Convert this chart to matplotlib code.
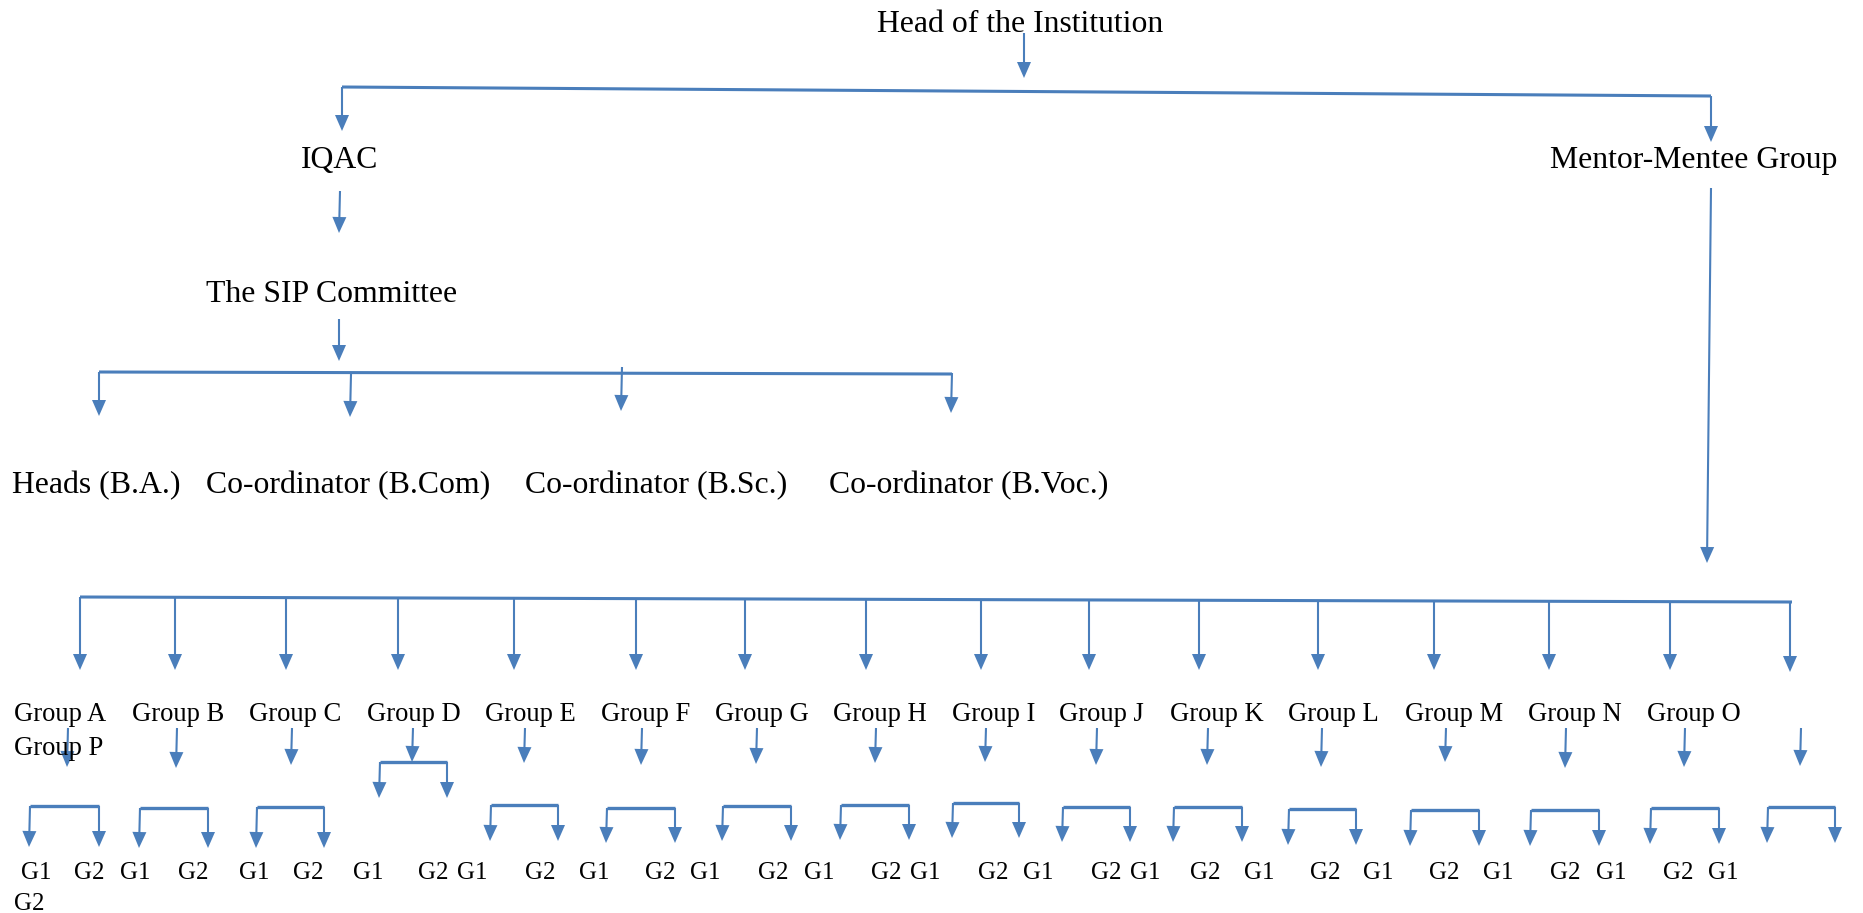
import matplotlib
matplotlib.use("Agg")
import matplotlib.pyplot as plt
import numpy as np

# ---------------- data (labels) ----------------
head_label = "Head of the Institution"
level2_labels = ["IQAC", "Mentor-Mentee Group"]
committee_label = "The SIP Committee"
coordinator_labels = ["Heads (B.A.)", "Co-ordinator (B.Com)",
                      "Co-ordinator (B.Sc.)", "Co-ordinator (B.Voc.)"]
group_labels = ["Group A", "Group B", "Group C", "Group D", "Group E", "Group F",
                "Group G", "Group H", "Group I", "Group J", "Group K", "Group L",
                "Group M", "Group N", "Group O", "Group P"]
sub_labels = ["G1", "G2"]

# ---------------- layout (pixel coords, y down) ----------------
W, H = 1863, 913
BLUE = "#4A7EBB"
FONT = "Liberation Serif"

fig = plt.figure(figsize=(W / 100, H / 100), dpi=100)
ax = fig.add_axes([0, 0, 1, 1])
ax.set_xlim(0, W)
ax.set_ylim(H, 0)
ax.axis("off")


def line(x0, y0, x1, y1, lw=2.2):
    ax.plot([x0, x1], [y0, y1], color=BLUE, lw=lw, solid_capstyle="butt")


def arrow(x0, y0, x1, y1, hw=14, hl=16, lw=1.5):
    dx, dy = x1 - x0, y1 - y0
    L = np.hypot(dx, dy)
    ux, uy = dx / L, dy / L
    bx, by = x1 - ux * hl, y1 - uy * hl
    ax.plot([x0, bx + ux * 2], [y0, by + uy * 2], color=BLUE, lw=lw,
            solid_capstyle="butt")
    px, py = -uy, ux
    ax.fill([x1, bx + px * hw / 2, bx - px * hw / 2],
            [y1, by + py * hw / 2, by - py * hw / 2], color=BLUE, lw=0)


def text(x, y, s, size):
    ax.text(x, y, s, fontsize=size, family=FONT, ha="left", va="baseline",
            color="black")


TOP = 22.9
MID = 19.2
SMALL = 18.0

# top level
text(877, 32, head_label, TOP)
arrow(1024, 33, 1024, 78)
line(342, 87, 1711, 96)
arrow(342, 87, 342, 131)
arrow(1711, 96, 1711, 142)

# level 2
text(301, 168, level2_labels[0], TOP)
text(1550, 168, level2_labels[1], TOP)

# IQAC branch
arrow(340, 191, 339, 233)
text(206, 302, committee_label, TOP)
arrow(339, 319, 339, 361)
line(99, 372, 952, 374)
coord_arrows = [(99, 372, 99, 416), (351, 374, 350, 417),
                (622, 367, 621, 411), (952, 373, 951, 413)]
for a in coord_arrows:
    arrow(*a)
coord_x = [12, 206, 525, 829]
for x, s in zip(coord_x, coordinator_labels):
    text(x, 493, s, TOP)

# Mentor branch
arrow(1711, 188, 1707, 563)
line(80, 597, 1792, 602)
group_arrow_x = [80, 175, 286, 398, 514, 636, 745, 866, 981, 1089,
                 1199, 1318, 1434, 1549, 1670, 1790]
for i, x in enumerate(group_arrow_x):
    ystart = 597 + 5 * (x - 80) / (1792 - 80)
    arrow(x, ystart, x, 670 if i < 15 else 672)

group_text_x = [14, 132, 249, 367, 485, 601, 715, 833, 952, 1059,
                1170, 1288, 1405, 1528, 1647]
for x, s in zip(group_text_x, group_labels[:15]):
    text(x, 721, s, MID)
text(14, 755, group_labels[15], MID)

# sub arrows under each group
sub_arrow_x = [68, 177, 292, 413, 525, 642, 757, 876, 986, 1097,
               1208, 1322, 1446, 1566, 1685, 1801]
sub_tip = [767, 768, 765, 762, 763, 765, 764, 763, 762, 765,
           765, 767, 762, 768, 767, 766]
for x, t in zip(sub_arrow_x, sub_tip):
    arrow(x, 728, x - 1, t)

# brackets
bracket_l = [30, 140, 257, 380, 491, 607, 723, 841, 953, 1063,
             1174, 1289, 1411, 1531, 1651, 1768]
bracket_r = [99, 208, 324, 447, 558, 675, 791, 909, 1019, 1130,
             1242, 1356, 1479, 1599, 1719, 1835]
bracket_y = [806, 808, 807, 762, 805, 808, 806, 805, 803, 807,
             807, 809, 810, 810, 808, 807]
bracket_tip = [847, 848, 848, 798, 841, 843, 841, 840, 838, 842,
               842, 845, 846, 846, 844, 843]
for l, r, y, t in zip(bracket_l, bracket_r, bracket_y, bracket_tip):
    line(l, y, r, y, lw=2.4)
    arrow(l, y, l - 1, t)
    arrow(r, y, r, t)

# G1 / G2 row
g_x = [21, 74, 120, 178, 239, 293, 353, 418, 457, 525, 579, 645, 690, 758,
       804, 871, 910, 978, 1023, 1091, 1130, 1190, 1244, 1310, 1363, 1429,
       1483, 1550, 1596, 1663, 1708]
for i, x in enumerate(g_x):
    text(x, 879, sub_labels[i % 2], SMALL)
text(14, 910, sub_labels[1], SMALL)

fig.savefig("out.png", dpi=100, facecolor="white")
